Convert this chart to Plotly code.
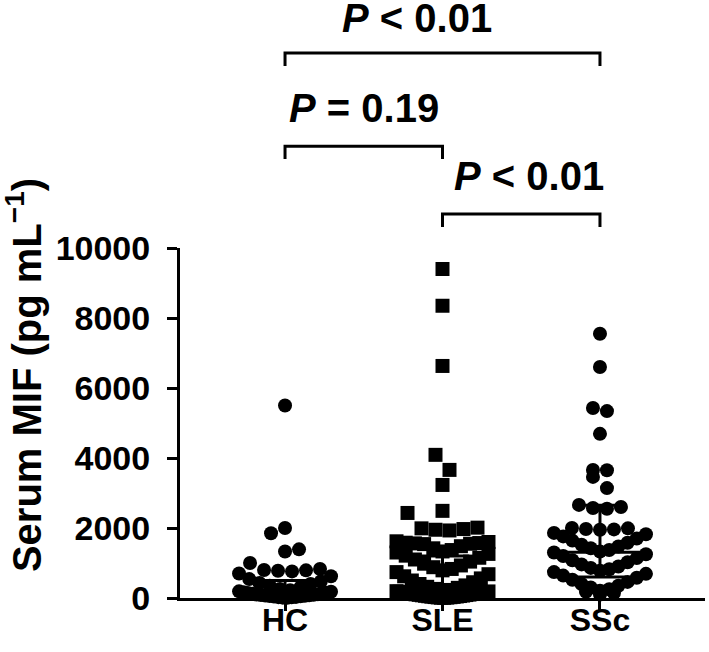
import numpy as np
import plotly.graph_objects as go

# groups and per-group serum MIF values (pg/mL)
groups = ["HC", "SLE", "SSc"]
symbols = ["circle", "square", "circle"]

hc_values = [5500, 2000, 1850, 1390, 1330,
             1000, 830, 800, 790, 780, 760,
             700, 620, 540, 470, 430, 400, 350, 300, 260, 220,
             190, 180, 165, 150, 140, 130, 120, 110, 100, 92, 85,
             78, 70, 62, 55, 48, 40, 32, 25, 18, 10, 5]

sle_values = [9400, 8350, 6630, 4090, 3660, 3230, 2490, 2430,
              2010, 1990, 1970, 1950, 1930,
              1620, 1600, 1580, 1570, 1560, 1550, 1540, 1480, 1420, 1370, 1330,
              1300, 1260, 1210, 1150, 1100, 1040, 980, 930, 880, 830, 790,
              740, 680, 620, 560, 500, 450, 400, 360, 320, 290, 260, 230, 210,
              195, 188, 180, 172, 165, 158, 150, 142, 135, 128, 120, 113, 105, 98, 90,
              84, 77, 70, 63, 56, 50, 44, 38, 32, 27, 22, 17, 12, 8, 5]

ssc_values = [7550, 6600, 5430, 5340, 4690, 3660, 3650, 3460, 3140,
              2660, 2600, 2570, 2550,
              2000, 1990, 1970, 1960, 1950,
              1860, 1820, 1760, 1700, 1640, 1580, 1520, 1470, 1420, 1370, 1330,
              1300, 1250, 1200, 1140, 1080, 1020, 960, 900, 860, 820, 780,
              740, 690, 640, 580, 520, 460, 400, 350, 300, 250, 210,
              180, 140, 100]

values = [hc_values, sle_values, ssc_values]

# median and interquartile range drawn over each group
medians = [150, 310, 1310]
q1 = [40, 80, 600]
q3 = [500, 1200, 2650]

y_ticks = [0, 2000, 4000, 6000, 8000, 10000]

# pairwise comparisons: (group a, group b, label)
comparisons = [(0, 2, "<b><i>P</i> < 0.01</b>"),
               (0, 1, "<b><i>P</i> = 0.19</b>"),
               (1, 2, "<b><i>P</i> < 0.01</b>")]
bracket_top = [15570, 12910, 10970]
bracket_leg = 370
label_y = [16560, 14000, 12060]
label_shift = [-0.16, 0.0, 0.05]

FONT = "Liberation Sans"
PX_PER_CAT = 157.5


def swarm_offsets(vals, bin_size=560, bin_start=200, dot_px=14, max_half_px=46):
    """GraphPad-like scatter: bin values into rows, lowest value in the middle."""
    vals = np.asarray(vals, float)
    offs = np.zeros(len(vals))
    bins = np.floor((vals - bin_start) / bin_size).astype(int)
    for b in np.unique(bins):
        idx = np.where(bins == b)[0]
        idx = idx[np.argsort(vals[idx], kind="stable")]
        n = len(idx)
        step = dot_px if n < 2 else min(dot_px, 2 * max_half_px / (n - 1))
        slots = (np.arange(n) - (n - 1) / 2) * step
        # nearest to the middle first, right side before left
        slots = slots[np.lexsort((-slots, np.round(np.abs(slots), 6)))]
        offs[idx] = slots / PX_PER_CAT
    return offs


fig = go.Figure()

for i, (vals, sym) in enumerate(zip(values, symbols)):
    fig.add_trace(go.Scatter(
        x=i + swarm_offsets(vals), y=vals, mode="markers",
        marker=dict(symbol=sym, size=14, color="black", line=dict(width=0)),
        cliponaxis=False, showlegend=False, hoverinfo="y"))

# median line + IQR whiskers
for i in range(len(groups)):
    mw, cw = 0.33, 0.17
    fig.add_trace(go.Scatter(
        x=[i - mw, i + mw, None, i, i, None, i - cw, i + cw, None, i - cw, i + cw],
        y=[medians[i], medians[i], None, q1[i], q3[i], None, q3[i], q3[i], None, q1[i], q1[i]],
        mode="lines", line=dict(color="black", width=3),
        showlegend=False, hoverinfo="skip"))

# significance brackets on a full-height helper axis
for (a, b, _), top in zip(comparisons, bracket_top):
    fig.add_trace(go.Scatter(
        x=[a, a, b, b], y=[top - bracket_leg, top, top, top - bracket_leg],
        yaxis="y2", mode="lines", line=dict(color="black", width=3),
        showlegend=False, hoverinfo="skip"))

for (a, b, text), ly, dx in zip(comparisons, label_y, label_shift):
    fig.add_annotation(x=(a + b) / 2 + dx, y=ly, xref="x", yref="y2", text=text,
                       showarrow=False, font=dict(family=FONT, size=40, color="black"),
                       xanchor="center", yanchor="middle")

fig.add_annotation(text="<b>Serum MIF (pg mL<sup>−1</sup>)</b>", textangle=-90,
                   xref="paper", yref="paper", x=-0.298, y=0.372,
                   xanchor="center", yanchor="middle", showarrow=False,
                   font=dict(family=FONT, size=40, color="black"))

xtickfont = dict(family=FONT, size=32, color="black", weight="bold")
ytickfont = dict(family=FONT, size=34, color="black", weight="bold")
fig.update_layout(
    width=709, height=652,
    margin=dict(l=180, r=4, t=0, b=54),
    plot_bgcolor="rgba(0,0,0,0)", paper_bgcolor="white",
    xaxis=dict(range=[-0.667, 2.667], tickvals=[0, 1, 2], ticktext=groups,
               ticks="outside", ticklen=10, tickwidth=3, tickcolor="black",
               showline=True, linewidth=3, linecolor="black", showgrid=False,
               zeroline=False, tickfont=xtickfont, anchor="y", automargin=False,
               ticklabelstandoff=-18),
    yaxis=dict(range=[0, 10000], domain=[0, 350 / 598], tickvals=y_ticks,
               ticktext=[str(t) for t in y_ticks],
               ticks="outside", ticklen=10, tickwidth=3, tickcolor="black",
               showline=True, linewidth=3, linecolor="black", showgrid=False,
               zeroline=False, tickfont=ytickfont, automargin=False,
               ticklabelstandoff=10),
    yaxis2=dict(range=[0, 598 / 0.035], domain=[0, 1], anchor="x",
                visible=False, showgrid=False, zeroline=False),
)

fig.write_html("out.html", config={"displayModeBar": False},
               post_script="document.body.style.margin='0';")
